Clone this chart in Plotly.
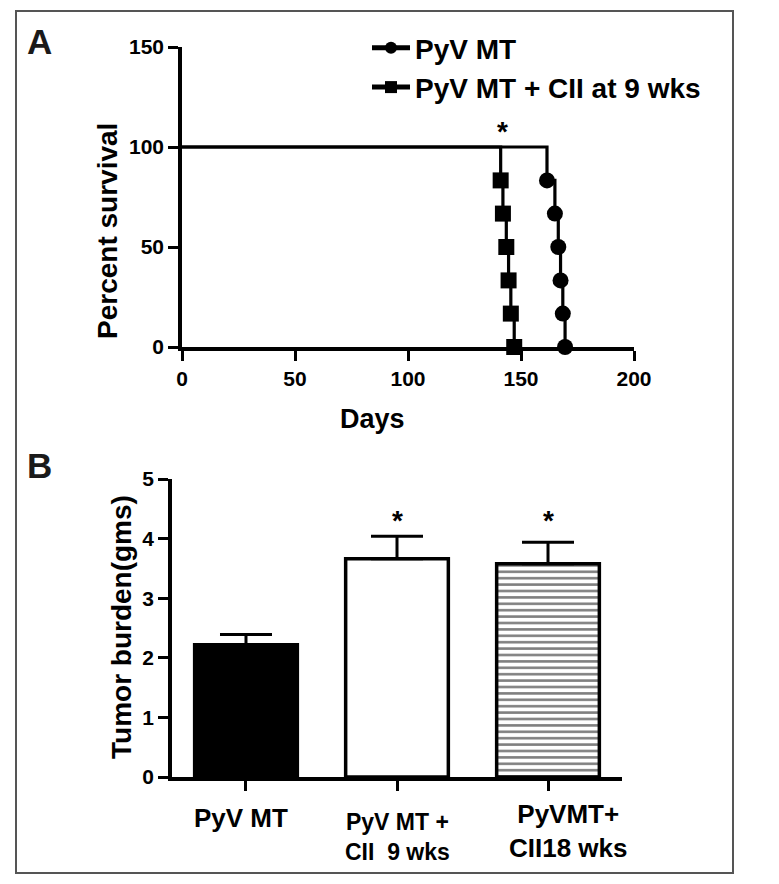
import plotly.graph_objects as go

# ---------------- data ----------------
# Panel A: Kaplan-Meier survival
pyvmt_days = [161.5, 165, 166.5, 167.5, 168.5, 169.5]
pyvmt_surv = [83.3, 66.7, 50.0, 33.3, 16.7, 0.0]
cii_days = [141, 142, 143.5, 144.5, 145.5, 147]
cii_surv = [83.3, 66.7, 50.0, 33.3, 16.7, 0.0]
series_names = ["PyV MT", "PyV MT + CII at 9 wks"]
a_xticks = [0, 50, 100, 150, 200]
a_yticks = [0, 50, 100, 150]

# Panel B: tumor burden
b_categories = ["PyV MT", "PyV MT +<br>CII  9 wks", "PyVMT+<br>CII18 wks"]
b_means = [2.22, 3.66, 3.58]
b_errors = [0.17, 0.38, 0.36]
b_yticks = [0, 1, 2, 3, 4, 5]

W, H = 779, 884
FONT = "Liberation Sans, Arial, Helvetica, sans-serif"
NARROW = "Liberation Sans Narrow, Arial Narrow, Liberation Sans, Arial, sans-serif"


def px_x(p):
    return p / W


def px_y(p):
    return 1 - p / H


fig = go.Figure()

# ---- Panel A traces ----
for name, days, surv, sym in [
    (series_names[0], pyvmt_days, pyvmt_surv, "circle"),
    (series_names[1], cii_days, cii_surv, "square"),
]:
    xs = [0] + days
    ys = [100] + surv
    sizes = [0] + [16] * len(days)
    fig.add_trace(go.Scatter(
        x=xs, y=ys, name=name, mode="lines+markers",
        line=dict(color="black", width=3.2, shape="hv"),
        marker=dict(symbol=sym, size=sizes, color="black", opacity=1,
                    line=dict(width=0, color="black")),
        cliponaxis=False, xaxis="x", yaxis="y", showlegend=True,
    ))

# ---- Panel B bars ----
fills = ["black", "white", "white"]
patterns = ["", "", "-"]
for i, cat in enumerate(b_categories):
    fig.add_trace(go.Bar(
        x=[i], y=[b_means[i]], xaxis="x2", yaxis="y2", showlegend=False,
        width=0.68,
        marker=dict(
            color=fills[i],
            line=dict(color="black", width=3.5),
            pattern=dict(shape=patterns[i], fgcolor="#000000", bgcolor="white",
                         size=6.4, solidity=0.4, fillmode="overlay") if patterns[i] else None,
        ),
        error_y=dict(type="data", symmetric=False, array=[b_errors[i]], arrayminus=[0],
                     color="black", thickness=3, width=26),
    ))

tickfont = dict(family=FONT, size=21, color="black", weight="bold")
axis_common = dict(showgrid=False, zeroline=False, showline=True, linecolor="black",
                   linewidth=3.5, ticks="outside", ticklen=10, tickwidth=3,
                   tickcolor="black", tickfont=tickfont, automargin=False)

fig.update_layout(
    width=W, height=H,
    margin=dict(l=0, r=0, t=0, b=0),
    paper_bgcolor="white", plot_bgcolor="white",
    xaxis=dict(domain=[px_x(182), px_x(634)], range=[0, 200], tickvals=a_xticks,
               anchor="y", **axis_common),
    yaxis=dict(domain=[px_y(347), px_y(47)], range=[0, 150], tickvals=a_yticks,
               anchor="x", **axis_common),
    xaxis2=dict(domain=[px_x(172), px_x(622)], range=[-0.49, 2.49], tickvals=[0, 1, 2],
                ticktext=["", "", ""], anchor="y2", **axis_common),
    yaxis2=dict(domain=[px_y(777), px_y(479)], range=[0, 5], tickvals=b_yticks,
                anchor="x2", **axis_common),
    legend=dict(x=px_x(367), y=px_y(23), xanchor="left", yanchor="top",
                font=dict(family=FONT, size=28, color="black", weight="bold"),
                bgcolor="rgba(0,0,0,0)", itemsizing="constant", tracegroupgap=0,
                itemwidth=38),
    showlegend=True,
    bargap=0.32,
)

ann = []


def add_text(text, x, y, size, angle=0, family=FONT, color="black"):
    ann.append(dict(text=text, x=px_x(x), y=px_y(y), xref="paper", yref="paper",
                    xanchor="center", yanchor="middle", textangle=angle, showarrow=False,
                    font=dict(family=family, size=size, color=color, weight="bold")))


# panel letters
add_text("A", 39, 41, 35, color="#1a1a1a")
add_text("B", 39, 465, 35, color="#1a1a1a")
# axis titles
add_text("Percent survival", 108, 231, 28, angle=-90)
add_text("Days", 372, 419, 27)
add_text("Tumor burden(gms)", 121, 627, 28, angle=-90)

# significance stars
ann.append(dict(text="*", x=cii_days[0] + 1, y=108, xref="x", yref="y", showarrow=False,
                xanchor="center", yanchor="middle",
                font=dict(family=FONT, size=28, color="black", weight="bold")))
for i in (1, 2):
    ann.append(dict(text="*", x=i, y=4.3, xref="x2", yref="y2", showarrow=False,
                    xanchor="center", yanchor="middle",
                    font=dict(family=FONT, size=28, color="black", weight="bold")))
# category labels
cat_shift = [-5, 0, 20]
cat_y = [818, 837, 831]
cat_size = [26, 23, 26]
cat_fam = [FONT, NARROW, FONT]
for i, cat in enumerate(b_categories):
    ann.append(dict(text=cat, x=i, y=px_y(cat_y[i]), xref="x2", yref="paper",
                    xshift=cat_shift[i], showarrow=False, align="center",
                    xanchor="center", yanchor="middle",
                    font=dict(family=cat_fam[i], size=cat_size[i], color="black", weight="bold")))
fig.update_layout(annotations=ann)

fig.update_layout(shapes=[dict(type="rect", xref="paper", yref="paper",
                               x0=px_x(16), x1=px_x(733), y0=px_y(873), y1=px_y(11),
                               line=dict(color="#555555", width=2))])

fig.write_html("out.html", config={"displayModeBar": False},
               post_script="document.body.style.margin='0';document.body.style.padding='0';")
